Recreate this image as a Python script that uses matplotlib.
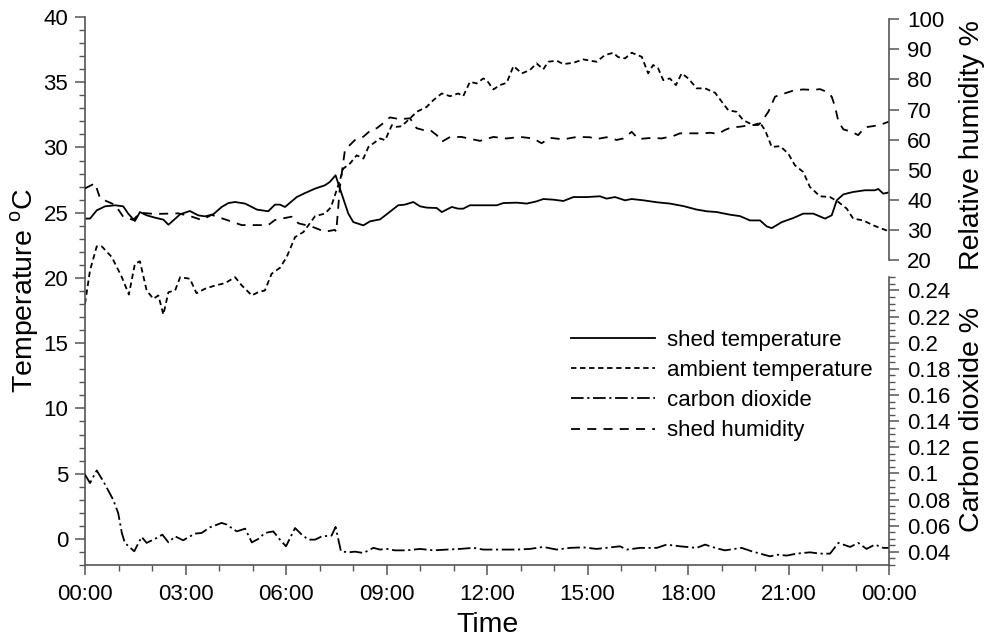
import matplotlib
matplotlib.use("Agg")
import matplotlib.pyplot as plt
from matplotlib.ticker import MultipleLocator, FuncFormatter

plt.rcParams['font.family'] = ['Liberation Sans', 'DejaVu Sans']
plt.rcParams['mathtext.fontset'] = 'custom'
plt.rcParams['mathtext.rm'] = 'Liberation Sans'

# ---------------- data (hours since 00:00) ----------------
shed_temp_t = [0, 0.15, 0.35, 0.60, 0.90, 1.14, 1.29, 1.49, 1.64, 1.84, 2.09, 2.34, 2.49, 2.64,
               2.84, 3.13, 3.38, 3.58, 3.83, 4.08, 4.28, 4.48, 4.78, 4.98, 5.13, 5.47, 5.67, 5.82,
               5.97, 6.32, 6.57, 6.87, 7.16, 7.31, 7.48, 7.66, 7.86, 8.01, 8.31, 8.51, 8.81, 9.05,
               9.35, 9.55, 9.80, 10.0, 10.20, 10.50, 10.65, 10.95, 11.14, 11.29, 11.49, 11.89,
               12.29, 12.49, 12.89, 13.19, 13.48, 13.68, 13.98, 14.28, 14.58, 14.98, 15.37, 15.57,
               15.82, 16.12, 16.32, 16.67, 17.07, 17.46, 17.86, 18.26, 18.56, 18.86, 19.25, 19.55,
               19.85, 20.15, 20.35, 20.50, 20.80, 21.14, 21.44, 21.74, 22.09, 22.29, 22.44, 22.64,
               22.93, 23.28, 23.58, 23.68, 23.83, 24.0]
shed_temp = [24.55, 24.55, 25.18, 25.49, 25.57, 25.49, 24.93, 24.36, 25.05, 24.80, 24.62, 24.47,
             24.08, 24.42, 24.88, 25.13, 24.80, 24.72, 24.88, 25.44, 25.74, 25.82, 25.70, 25.44,
             25.24, 25.11, 25.62, 25.62, 25.44, 26.20, 26.51, 26.85, 27.10, 27.36, 27.87, 26.46,
             24.93, 24.28, 24.03, 24.34, 24.49, 24.97, 25.57, 25.62, 25.82, 25.49, 25.39, 25.36,
             25.05, 25.44, 25.31, 25.31, 25.57, 25.57, 25.57, 25.74, 25.77, 25.70, 25.87, 26.05,
             26.00, 25.90, 26.20, 26.20, 26.26, 26.08, 26.20, 25.95, 26.05, 25.95, 25.80, 25.70,
             25.51, 25.24, 25.11, 25.05, 24.85, 24.74, 24.41, 24.41, 23.95, 23.82, 24.28, 24.59,
             24.93, 24.93, 24.55, 24.80, 25.95, 26.41, 26.59, 26.72, 26.72, 26.82, 26.46, 26.56]

ambient_t = [0, 0.15, 0.35, 0.50, 0.80, 1.10, 1.31, 1.49, 1.64, 1.84, 2.04, 2.19, 2.34, 2.49,
             2.69, 2.84, 3.13, 3.33, 3.58, 3.88, 4.18, 4.48, 4.68, 4.98, 5.17, 5.37, 5.57, 5.82,
             6.02, 6.27, 6.52, 6.87, 7.16, 7.34, 7.61, 7.71, 7.91, 8.11, 8.31, 8.46, 8.81, 8.96,
             9.16, 9.30, 9.45, 9.70, 9.90, 10.20, 10.40, 10.65, 10.90, 11.14, 11.29, 11.49, 11.69,
             11.89, 11.99, 12.19, 12.39, 12.59, 12.79, 13.04, 13.28, 13.48, 13.68, 13.83, 14.08,
             14.28, 14.58, 14.87, 15.27, 15.52, 15.77, 15.91, 16.12, 16.32, 16.62, 16.81, 16.96,
             17.11, 17.26, 17.46, 17.64, 17.81, 18.01, 18.26, 18.51, 18.81, 19.01, 19.20, 19.45,
             19.65, 19.95, 20.15, 20.30, 20.50, 20.75, 20.99, 21.19, 21.44, 21.64, 21.94, 22.24,
             22.49, 22.74, 22.93, 23.23, 23.53, 23.93, 24.0]
ambient_temp = [18.02, 20.58, 22.42, 22.42, 21.60, 20.06, 18.73, 21.09, 21.27, 19.04, 18.40, 18.66,
                17.20, 18.91, 19.04, 20.06, 19.94, 18.83, 19.17, 19.42, 19.60, 20.06, 19.42, 18.66,
                18.91, 19.04, 20.32, 20.78, 21.60, 23.13, 23.52, 24.74, 24.93, 25.41, 27.49, 28.38,
                28.77, 29.40, 29.15, 30.04, 30.69, 30.56, 31.71, 31.58, 31.63, 32.22, 32.73, 33.11,
                33.63, 34.14, 33.93, 34.14, 33.93, 35.03, 34.91, 35.29, 35.16, 34.45, 34.78, 34.96,
                36.24, 35.68, 35.93, 36.45, 35.99, 36.57, 36.65, 36.39, 36.49, 36.75, 36.57, 37.08,
                37.26, 36.93, 36.83, 37.26, 36.95, 35.68, 36.32, 36.06, 35.16, 35.29, 34.78, 35.68,
                35.29, 34.53, 34.53, 34.19, 33.50, 32.86, 32.73, 32.09, 31.71, 31.89, 31.33, 30.04,
                30.10, 29.54, 28.64, 28.12, 26.97, 26.26, 26.20, 25.82, 25.31, 24.55, 24.41, 24.03,
                23.64, 23.55]

humidity_t = [0, 0.30, 0.45, 0.90, 1.14, 1.44, 1.64, 2.09, 2.79, 3.19, 3.48, 3.78, 4.18, 4.68,
              5.07, 5.47, 5.67, 6.17, 6.37, 6.77, 7.16, 7.46, 7.50, 7.61, 7.76, 8.06, 8.31, 8.56,
              8.71, 8.96, 9.10, 9.25, 9.40, 9.70, 9.90, 10.10, 10.30, 10.50, 10.65, 10.90, 11.24,
              11.79, 12.19, 12.59, 12.99, 13.38, 13.63, 13.88, 14.28, 14.68, 15.07, 15.27, 15.57,
              15.87, 16.07, 16.32, 16.52, 16.92, 17.21, 17.56, 17.76, 18.06, 18.46, 18.66, 18.90,
              19.10, 19.30, 19.55, 19.85, 20.10, 20.20, 20.40, 20.60, 20.84, 21.14, 21.44, 21.74,
              21.94, 22.14, 22.29, 22.39, 22.49, 22.64, 22.89, 23.08, 23.28, 23.53, 23.73, 24.0]
humidity = [43.8, 45.5, 40.5, 38.3, 34.4, 33.3, 35.7, 35.3, 35.5, 34.4, 33.3, 35.0, 33.5, 31.6,
            31.6, 31.6, 33.3, 34.4, 32.2, 31.1, 29.4, 30.0, 29.4, 44.4, 56.6, 59.9, 61.0, 63.4,
            63.8, 66.0, 67.4, 67.1, 66.8, 67.1, 63.8, 63.2, 63.2, 61.5, 59.3, 60.9, 60.9, 59.6,
            60.9, 60.4, 60.9, 60.4, 58.8, 60.6, 60.1, 60.9, 60.8, 60.2, 60.8, 59.9, 60.4, 62.6,
            60.2, 60.6, 60.4, 61.2, 62.1, 62.1, 62.1, 62.3, 61.9, 63.2, 64.1, 64.3, 64.8, 64.9,
            66.0, 69.3, 74.3, 75.2, 76.3, 76.7, 76.5, 76.8, 75.9, 74.3, 70.9, 66.0, 63.4, 62.6,
            61.5, 64.1, 64.5, 64.9, 66.0]

co2_t = [0, 0.15, 0.35, 0.55, 0.84, 0.99, 1.10, 1.19, 1.47, 1.69, 1.84, 2.14, 2.31, 2.49, 2.69,
         2.93, 3.28, 3.48, 3.73, 4.08, 4.23, 4.53, 4.78, 4.98, 5.17, 5.37, 5.62, 5.82, 6.00, 6.27,
         6.47, 6.67, 6.87, 7.07, 7.36, 7.48, 7.64, 7.86, 8.06, 8.31, 8.61, 8.81, 9.01, 9.25, 9.60,
         10.0, 10.40, 10.80, 11.19, 11.59, 11.89, 12.39, 12.89, 13.28, 13.68, 14.08, 14.48, 14.87,
         15.27, 15.97, 16.17, 16.57, 17.07, 17.36, 17.76, 18.26, 18.51, 18.81, 19.10, 19.60, 19.90,
         20.45, 20.65, 20.95, 21.24, 21.64, 21.94, 22.24, 22.49, 22.84, 23.08, 23.33, 23.58, 23.83,
         24.0]
co2 = [0.0991, 0.0927, 0.1023, 0.0939, 0.0800, 0.0698, 0.0545, 0.0469, 0.0405, 0.0515, 0.0469,
       0.0507, 0.0532, 0.0473, 0.0519, 0.0489, 0.0540, 0.0545, 0.0588, 0.0622, 0.0609, 0.0557,
       0.0578, 0.0473, 0.0499, 0.0545, 0.0557, 0.0494, 0.0443, 0.0583, 0.0532, 0.0494, 0.0494,
       0.0519, 0.0525, 0.0591, 0.0405, 0.0397, 0.0402, 0.0392, 0.0431, 0.0418, 0.0423, 0.0412,
       0.0412, 0.0423, 0.0412, 0.0418, 0.0423, 0.0431, 0.0418, 0.0418, 0.0418, 0.0423, 0.0438,
       0.0418, 0.0431, 0.0435, 0.0423, 0.0443, 0.0418, 0.0431, 0.0431, 0.0456, 0.0443, 0.0431,
       0.0456, 0.0431, 0.0412, 0.0431, 0.0405, 0.0366, 0.0379, 0.0372, 0.0387, 0.0397, 0.0387,
       0.0387, 0.0469, 0.0438, 0.0469, 0.0423, 0.0456, 0.0431, 0.0431]

x_ticks = [0, 3, 6, 9, 12, 15, 18, 21, 24]
x_labels = ["00:00", "03:00", "06:00", "09:00", "12:00", "15:00", "18:00", "21:00", "00:00"]
co2_ticks = [0.04, 0.06, 0.08, 0.1, 0.12, 0.14, 0.16, 0.18, 0.2, 0.22, 0.24]
legend_labels = ['shed temperature', 'ambient temperature', 'carbon dioxide', 'shed humidity']

# ---------------- figure ----------------
W, H = 985, 637
fig = plt.figure(figsize=(W / 100, H / 100), dpi=100)

def rect(x0, y_top, x1, y_bot):
    return [x0 / W, 1 - y_bot / H, (x1 - x0) / W, (y_bot - y_top) / H]

spine_col = '#555555'
TICK_FS = 16
LABEL_FS = 20.5

ax = fig.add_axes(rect(85, 17, 889, 565))
ax_h = fig.add_axes(rect(85, 19.3, 889, 260), sharex=ax)
ax_c = fig.add_axes(rect(85, 277.4, 889, 565), sharex=ax)
for a in (ax_h, ax_c):
    a.patch.set_visible(False)

lw = 1.3
l1, = ax.plot(shed_temp_t, shed_temp, color='black', lw=lw, ls='-')
l2, = ax.plot(ambient_t, ambient_temp, color='black', lw=lw, dashes=(3, 2))
l3, = ax_c.plot(co2_t, co2, color='black', lw=lw, dashes=(7, 2, 1.2, 2))
l4, = ax_h.plot(humidity_t, humidity, color='black', lw=lw, dashes=(5, 4))

ax.set_xlim(0, 24)
ax.set_ylim(-2, 40)
ax_h.set_ylim(20, 100)
ax_c.set_ylim(0.03, 0.25)

# main axes styling
for s in ('top', 'right'):
    ax.spines[s].set_visible(False)
for s in ('left', 'bottom'):
    ax.spines[s].set_color(spine_col)
    ax.spines[s].set_linewidth(1.2)
ax.set_xticks(x_ticks)
ax.set_xticklabels(x_labels)
ax.xaxis.set_minor_locator(MultipleLocator(1))
ax.yaxis.set_major_locator(MultipleLocator(5))
ax.yaxis.set_minor_locator(MultipleLocator(1))
ax.tick_params(which='major', direction='out', length=7, width=1.1, color=spine_col,
               labelsize=TICK_FS)
ax.tick_params(axis='y', which='major', pad=5)
ax.tick_params(axis='x', which='major', pad=7)
ax.tick_params(which='minor', direction='out', length=4, width=1.0, color=spine_col)
ax.set_ylabel('Temperature $^{\\mathrm{o}}$C', fontsize=LABEL_FS)
ax.yaxis.set_label_coords(-44 / 804, 0.5)
ax.set_xlabel('Time', fontsize=LABEL_FS)
ax.xaxis.set_label_coords(0.5, -(612 - 565) / 548)

# right axes styling
for a in (ax_h, ax_c):
    for s in ('top', 'left', 'bottom'):
        a.spines[s].set_visible(False)
    a.spines['right'].set_color(spine_col)
    a.spines['right'].set_linewidth(1.2)
    a.yaxis.tick_right()
    a.yaxis.set_label_position('right')
    a.tick_params(axis='x', which='both', bottom=False, labelbottom=False)
    a.tick_params(axis='y', which='major', direction='out', length=7, width=1.1,
                  color=spine_col, labelsize=TICK_FS, pad=6)
    a.tick_params(axis='y', which='minor', direction='out', length=4, width=1.0,
                  color=spine_col)

ax_h.yaxis.set_major_locator(MultipleLocator(10))
ax_h.set_ylabel('Relative humidity %', fontsize=LABEL_FS)

ax_c.set_yticks(co2_ticks)
ax_c.yaxis.set_major_formatter(FuncFormatter(lambda v, p: ('%.2f' % v).rstrip('0').rstrip('.')))
ax_c.yaxis.set_minor_locator(MultipleLocator(0.005))
ax_c.set_ylabel('Carbon dioxide %', fontsize=LABEL_FS)
ax_c.yaxis.set_label_coords(1 + 70 / 804, (565 - 420) / (565 - 277.4))
ax_h.yaxis.set_label_coords(1 + 70 / 804, (260 - 145) / (260 - 19.3))

leg = ax.legend([l1, l2, l3, l4], legend_labels,
                loc='upper left', bbox_to_anchor=((571 - 85) / 804, (565 - 330) / 548),
                frameon=False, fontsize=16, handlelength=3.8, handletextpad=0.5,
                labelspacing=0.41, borderaxespad=0, borderpad=0)

fig.savefig('out.png', dpi=100)
